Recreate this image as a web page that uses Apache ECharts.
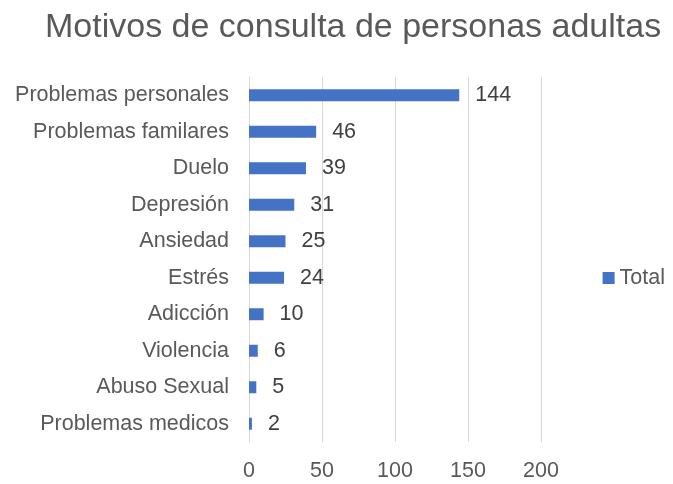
<!DOCTYPE html>
<html><head><meta charset="utf-8">
<script src="https://cdn.jsdelivr.net/npm/echarts@6/dist/echarts.min.js"></script>
<style>html,body{margin:0;padding:0;background:#fff}#c{width:673px;height:484px}</style>
</head><body><div id="c"></div>
<script>
const categories = ["Problemas personales","Problemas familares","Duelo","Depresión","Ansiedad","Estrés","Adicción","Violencia","Abuso Sexual","Problemas medicos"];
const totals = [144,46,39,31,25,24,10,6,5,2];
const xTicks = [0,50,100,150,200];
const seriesName = "Total";
const titleText = "Motivos de consulta de personas adultas";

const font = "'Liberation Sans', sans-serif";
const fs = 21.5;
const chart = echarts.init(document.getElementById('c'));
chart.setOption({
  animation:false,
  textStyle:{fontFamily:font},
  title:{text:titleText,left:40,top:6,textStyle:{fontFamily:font,fontSize:34,fontWeight:'normal',color:'#595959'}},
  legend:{data:[seriesName],right:3,top:262,orient:'vertical',itemWidth:12,itemHeight:12,itemGap:6,icon:'rect',
    textStyle:{fontFamily:font,fontSize:fs,color:'#595959'}},
  grid:{left:249,right:132,top:77,bottom:42,containLabel:false},
  xAxis:{type:'value',min:xTicks[0],max:xTicks[xTicks.length-1],interval:50,
    axisLine:{show:false},axisTick:{show:false},
    splitLine:{lineStyle:{color:'#d9d9d9',width:1}},
    axisLabel:{fontFamily:font,fontSize:fs,color:'#595959',margin:18}},
  yAxis:{type:'category',inverse:true,data:categories,
    axisLine:{show:true,lineStyle:{color:'#d9d9d9'}},axisTick:{show:false},
    axisLabel:{fontFamily:font,fontSize:fs,color:'#595959',margin:20}},
  series:[{name:seriesName,type:'bar',data:totals,barWidth:12,
    itemStyle:{color:'#4472c4'},
    label:{show:true,position:'right',distance:16,fontFamily:font,fontSize:fs,color:'#404040'}}]
});
</script></body></html>
